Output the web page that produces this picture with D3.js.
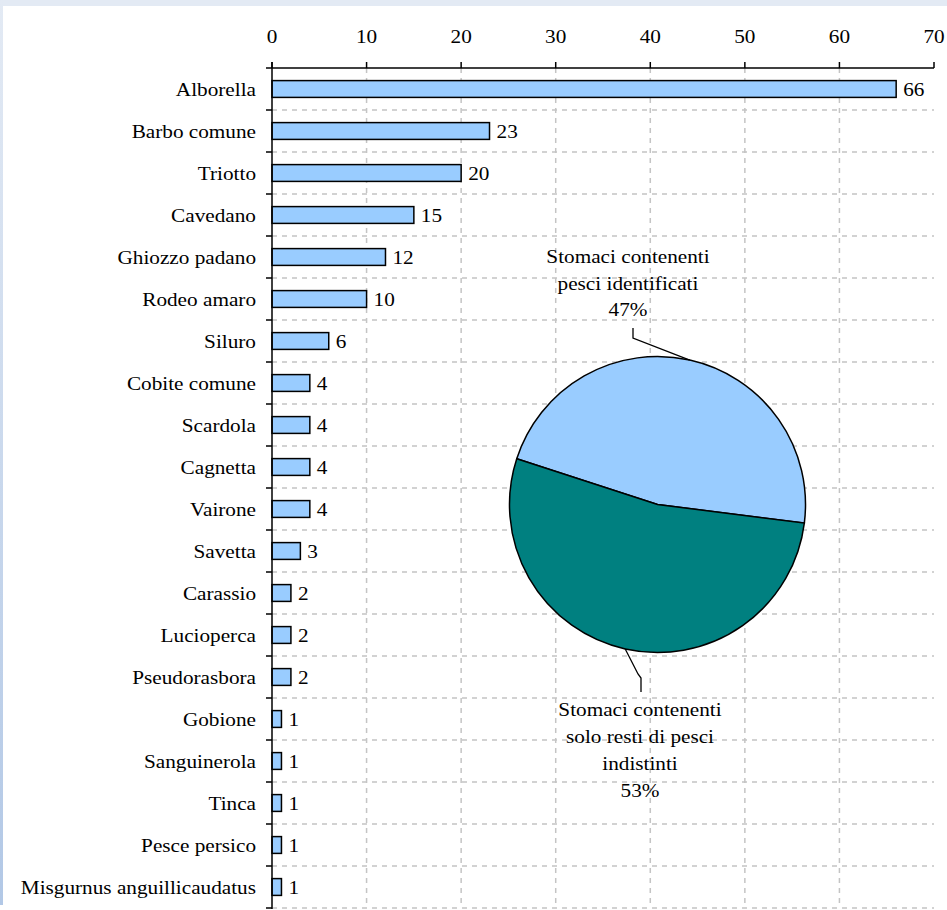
<!DOCTYPE html>
<html><head><meta charset="utf-8">
<script src="https://cdn.jsdelivr.net/npm/d3@7"></script>
<style>html,body{margin:0;padding:0;background:#fff;}svg{display:block;}</style>
</head><body>
<script>
const categories = ["Alborella","Barbo comune","Triotto","Cavedano","Ghiozzo padano","Rodeo amaro","Siluro","Cobite comune","Scardola","Cagnetta","Vairone","Savetta","Carassio","Lucioperca","Pseudorasbora","Gobione","Sanguinerola","Tinca","Pesce persico","Misgurnus anguillicaudatus"];
const counts = [66,23,20,15,12,10,6,4,4,4,4,3,2,2,2,1,1,1,1,1];
const xTicks = [0,10,20,30,40,50,60,70];
const pieLabels = [["Stomaci contenenti","pesci identificati","47%"],["Stomaci contenenti","solo resti di pesci","indistinti","53%"]];
const pieValues = [47,53];
const pieColors = ["#99ccff","#008080"];

(function(){
const W=947,H=910;
const svg=d3.select("body").append("svg").attr("width",W).attr("height",H);
const defs=svg.append("defs");
const lg=defs.append("linearGradient").attr("id","lg").attr("x1",0).attr("y1",0).attr("x2",0).attr("y2",1);
lg.append("stop").attr("offset","0%").attr("stop-color","#e3eaf4");
lg.append("stop").attr("offset","100%").attr("stop-color","#b2c8e6");
svg.append("rect").attr("x",0).attr("y",0).attr("width",W).attr("height",6).attr("fill","#e3eaf4");
svg.append("rect").attr("x",0).attr("y",0).attr("width",3).attr("height",905).attr("fill","url(#lg)");

const FONT="'Liberation Serif','Times New Roman',serif";
const SX=1.18;
function txt(g,x,y,s,anchor){
  return g.append("text").attr("transform",`translate(${x},${y}) scale(${SX},1)`)
    .attr("text-anchor",anchor).attr("font-family",FONT).attr("font-size",18).attr("fill","#000").text(s);
}

const x=d3.scaleLinear().domain([0,70]).range([272,934]);
const yTop=68,yBot=908;
const y=d3.scaleBand().domain(categories).range([yTop,yBot]).paddingInner(0.6).paddingOuter(0.3);
const bandStep=y.step();

const grid=svg.append("g").attr("stroke","#c4c4c4").attr("stroke-width",1.5).attr("stroke-dasharray","5,5");
xTicks.filter(d=>d>0&&d<70).forEach(d=>{
  grid.append("line").attr("x1",x(d)).attr("x2",x(d)).attr("y1",yTop).attr("y2",yBot);
});
categories.forEach((c,i)=>{
  const yy=yTop+(i+1)*bandStep;
  grid.append("line").attr("x1",x(0)).attr("x2",x(70)).attr("y1",yy).attr("y2",yy);
});

svg.append("g").selectAll("rect").data(counts).join("rect")
  .attr("x",x(0)).attr("y",(d,i)=>y(categories[i])).attr("width",d=>x(d)-x(0)).attr("height",y.bandwidth())
  .attr("fill","#99ccff").attr("stroke","#000").attr("stroke-width",1.5);

const lab=svg.append("g");
counts.forEach((d,i)=>txt(lab,x(d)+7,y(categories[i])+y.bandwidth()/2+6.5,String(d),"start"));
categories.forEach((c,i)=>txt(lab,256,y(c)+y.bandwidth()/2+6.5,c,"end"));

const ax=svg.append("g").attr("stroke","#000").attr("stroke-width",1.5);
ax.append("line").attr("x1",x(0)).attr("x2",x(70)).attr("y1",yTop).attr("y2",yTop);
xTicks.forEach(d=>ax.append("line").attr("x1",x(d)).attr("x2",x(d)).attr("y1",yTop-6).attr("y2",yTop));
ax.append("line").attr("x1",x(0)).attr("x2",x(0)).attr("y1",yTop-6).attr("y2",yBot+1);
for(let i=0;i<=categories.length;i++){
  const yy=yTop+i*bandStep;
  ax.append("line").attr("x1",x(0)-6).attr("x2",x(0)).attr("y1",yy).attr("y2",yy);
}
xTicks.forEach(d=>txt(lab,x(d),43,String(d),"middle"));

const cx=657.5,cy=504.5,R=148;
const deg=Math.PI/180;
const pie=d3.pie().sort(null).startAngle(-72*deg).endAngle(288*deg);
const arcs=pie(pieValues);
const arc=d3.arc().innerRadius(0).outerRadius(R);
const pg=svg.append("g").attr("transform",`translate(${cx},${cy})`);
pg.selectAll("path").data(arcs).join("path").attr("d",arc)
  .attr("fill",(d,i)=>pieColors[i]).attr("stroke","#000").attr("stroke-width",1.5);

function edgePt(a){const m=(a.startAngle+a.endAngle)/2;return [cx+R*Math.sin(m),cy-R*Math.cos(m)];}
const p0=edgePt(arcs[0]), p1=edgePt(arcs[1]);
const ll=svg.append("g").attr("fill","none").attr("stroke","#000").attr("stroke-width",1.3);
ll.append("path").attr("d",d3.line()([p0,[633,338],[633,328]]));
ll.append("path").attr("d",d3.line()([p1,[638,674],[641,678],[641,692]]));

pieLabels[0].forEach((s,i)=>txt(lab,628,263+i*26.5,s,"middle"));
pieLabels[1].forEach((s,i)=>txt(lab,640,716+i*27,s,"middle"));
})();
</script>
</body></html>
